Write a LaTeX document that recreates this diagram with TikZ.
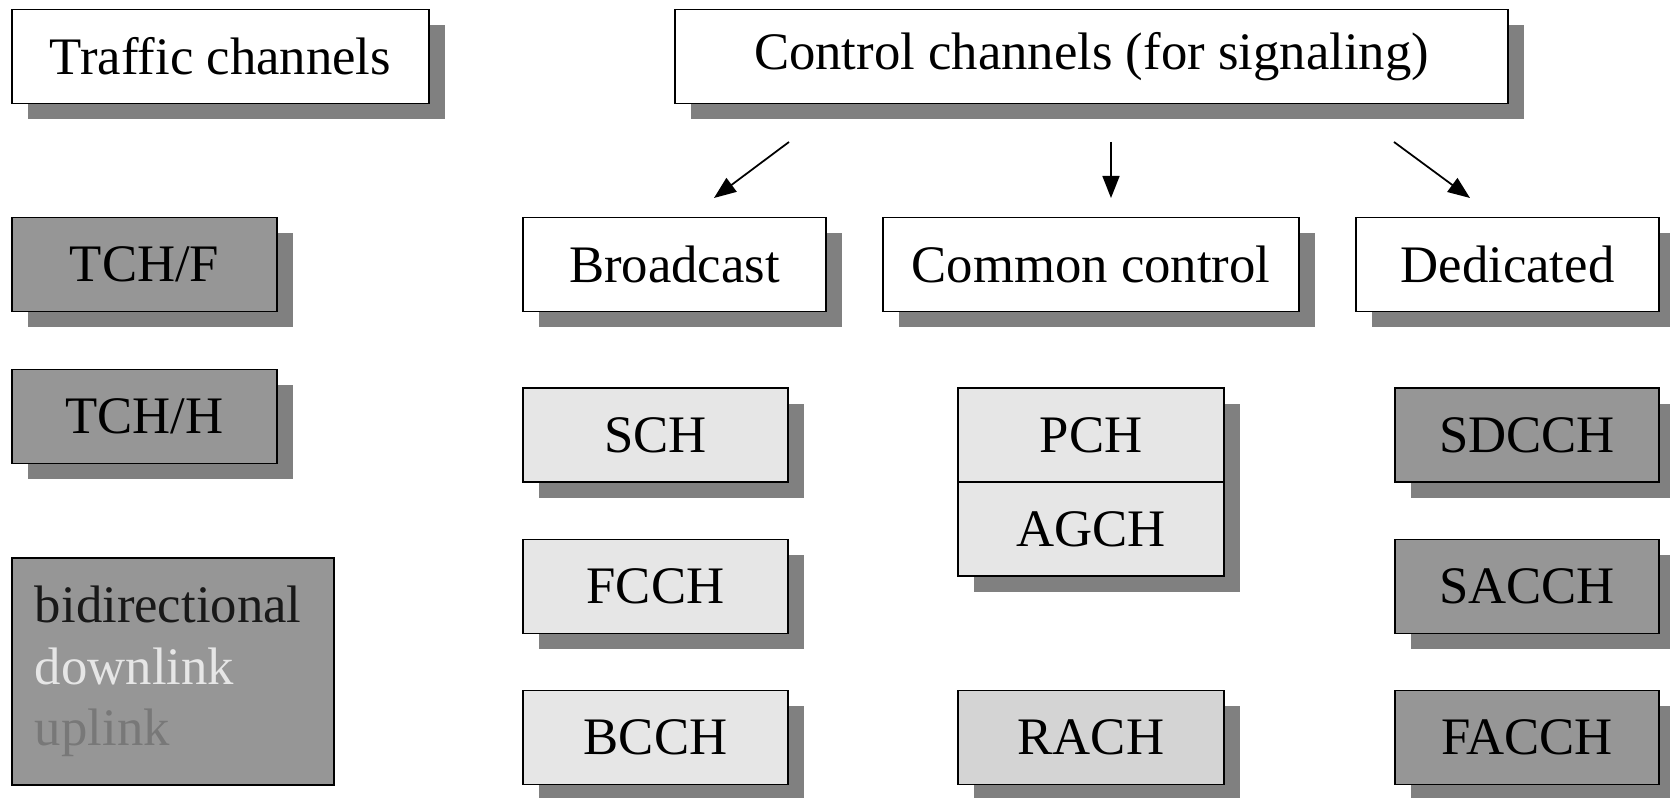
\documentclass[tikz,border=0pt]{standalone}
\usepackage{fontspec}
\setmainfont{Liberation Serif}
\usetikzlibrary{shadows,arrows.meta,positioning}
\definecolor{bidir}{HTML}{969696}
\definecolor{descend}{HTML}{E6E6E6}
\definecolor{montant}{HTML}{D4D4D4}
\definecolor{ombre}{HTML}{808080}
\definecolor{txtmontant}{HTML}{787878}
\begin{document}
\begin{tikzpicture}
	\tikzset{boite/.style={rectangle, draw=black, line width=0.5pt, inner sep=0, outer sep=0, minimum height=0.94cm, font=\fontsize{15}{18}\selectfont, drop shadow={shadow xshift=0.16cm, shadow yshift=-0.16cm, fill=ombre, opacity=1}}, fleche/.style={-{Triangle[length=0.22cm, width=0.17cm]}, line width=0.5pt}};
	\useasboundingbox (0,0) rectangle (16.70,-7.98);

	\node[boite, fill=white, minimum width=4.17cm] (traffic) at ( 2.205, -0.565) {Traffic channels};
	\node[boite, fill=white, minimum width=8.33cm] (control) at (10.915, -0.565) {Control channels (for signaling)};

	\node[boite, fill=white, minimum width=3.03cm] (broad)  at ( 6.745, -2.645) {Broadcast};
	\node[boite, fill=white, minimum width=4.16cm] (common) at (10.910, -2.645) {Common control};
	\node[boite, fill=white, minimum width=3.03cm] (dedic)  at (15.075, -2.645) {Dedicated};

	\node[boite, fill=bidir, minimum width=2.65cm] (tchf) at ( 1.445, -2.645) {TCH/F};
	\node[boite, fill=bidir, minimum width=2.65cm] (tchh) at ( 1.445, -4.165) {TCH/H};

	\node[boite, fill=descend, minimum width=2.65cm] (sch)  at ( 6.555, -4.350) {SCH};
	\node[boite, fill=descend, minimum width=2.65cm] (fcch) at ( 6.555, -5.865) {FCCH};
	\node[boite, fill=descend, minimum width=2.65cm] (bcch) at ( 6.555, -7.375) {BCCH};

	\node[boite, fill=descend, minimum width=2.66cm] (pch)  at (10.910, -4.350) {PCH};
	\node[boite, fill=descend, minimum width=2.66cm, below=0cm of pch] (agch) {AGCH};
	\node[boite, fill=montant, minimum width=2.66cm] (rach) at (10.910, -7.375) {RACH};

	\node[boite, fill=bidir, minimum width=2.64cm] (sdcch) at (15.270, -4.350) {SDCCH};
	\node[boite, fill=bidir, minimum width=2.64cm] (sacch) at (15.270, -5.865) {SACCH};
	\node[boite, fill=bidir, minimum width=2.64cm] (facch) at (15.270, -7.375) {FACCH};

	\node[rectangle, draw=black, line width=0.5pt, fill=bidir, minimum width=3.22cm, minimum height=2.27cm, text width=2.76cm, align=left, inner xsep=0.23cm, font=\fontsize{15}{17.5}\selectfont] (leg) at (1.73, -6.715) {\textcolor{black!90}{bidirectional}\\ \textcolor{descend}{downlink}\\ \textcolor{txtmontant}{uplink}};

	\coordinate (d1) at ( 7.89, -1.42);
	\coordinate (a1) at ( 7.14, -1.98);
	\coordinate (d2) at (11.11, -1.42);
	\coordinate (a2) at (11.11, -1.98);
	\coordinate (d3) at (13.94, -1.42);
	\coordinate (a3) at (14.70, -1.98);

	\draw[fleche] (d1) -- (a1);
	\draw[fleche] (d2) -- (a2);
	\draw[fleche] (d3) -- (a3);

\end{tikzpicture}
\end{document}
